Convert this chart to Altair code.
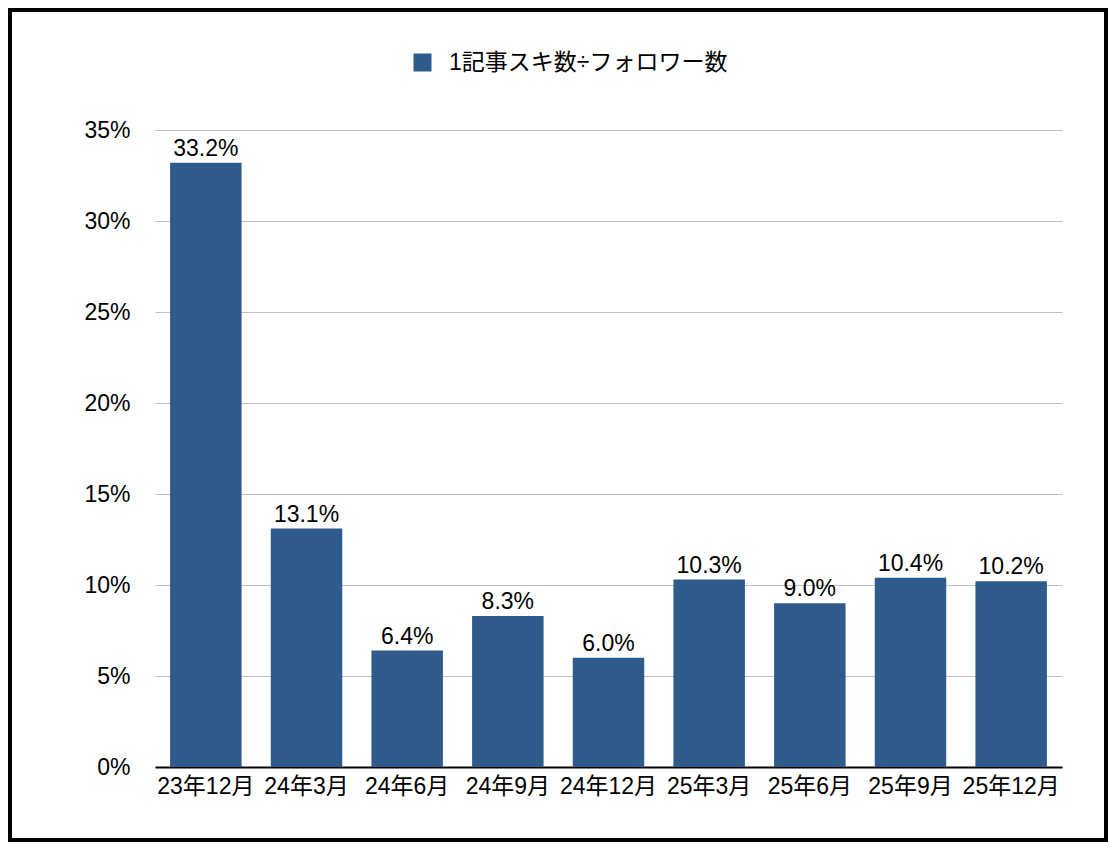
import altair as alt
import pandas as pd

categories = ["23年12月", "24年3月", "24年6月", "24年9月", "24年12月", "25年3月", "25年6月", "25年9月", "25年12月"]
values = [0.332, 0.131, 0.064, 0.083, 0.060, 0.103, 0.090, 0.104, 0.102]
series_name = "1記事スキ数÷フォロワー数"
bar_color = "#2f5a8c"
FONT = "Liberation Sans, Noto Sans CJK JP"
FS = 23

df = pd.DataFrame({"month": categories, "value": values, "series": series_name})

x_enc = alt.X(
    "month:N",
    sort=categories,
    title=None,
    scale=alt.Scale(paddingInner=0.29, paddingOuter=0.15),
    axis=alt.Axis(labelAngle=0, labelFontSize=FS, labelFont=FONT, labelColor="#000",
                  domainColor="#000", domainWidth=2, ticks=False, labelPadding=8, grid=False,
                  labelLimit=0),
)
y_enc = alt.Y(
    "value:Q",
    title=None,
    scale=alt.Scale(domain=[0, 0.35], nice=False),
    axis=alt.Axis(values=[0, 0.05, 0.1, 0.15, 0.2, 0.25, 0.3, 0.35], format=".0%",
                  labelFontSize=FS, labelFont=FONT, labelColor="#000", labelPadding=25,
                  domain=False, ticks=False, gridColor="#c0c0c0", gridWidth=1),
)

bars = alt.Chart(df).mark_bar().encode(
    x=x_enc,
    y=y_enc,
    color=alt.Color(
        "series:N",
        scale=alt.Scale(range=[bar_color]),
        legend=alt.Legend(title=None, orient="none", legendX=256, legendY=-79,
                          symbolType="square", symbolSize=324, symbolStrokeWidth=0,
                          labelFontSize=FS, labelFont=FONT, labelColor="#000",
                          labelOffset=15, labelLimit=0),
    ),
)

labels = alt.Chart(df).mark_text(baseline="alphabetic", dy=-7, fontSize=FS, font=FONT, color="#000").encode(
    x=alt.X("month:N", sort=categories),
    y=alt.Y("value:Q"),
    text=alt.Text("value:Q", format=".1%"),
)

border = alt.Chart(pd.DataFrame({"b": [0]})).mark_rect(
    filled=False, stroke="#000", strokeWidth=4
).encode(
    x=alt.value(-145), x2=alt.value(951), y=alt.value(-120), y2=alt.value(710)
)

chart = alt.layer(bars, labels, border).properties(
    width=907, height=637,
    padding={"left": 147, "top": 122, "right": 46, "bottom": 75},
    autosize=alt.AutoSizeParams(type="none"),
).configure_view(stroke=None)

chart.save("out.html", embed_options={"renderer": "svg", "actions": False})
